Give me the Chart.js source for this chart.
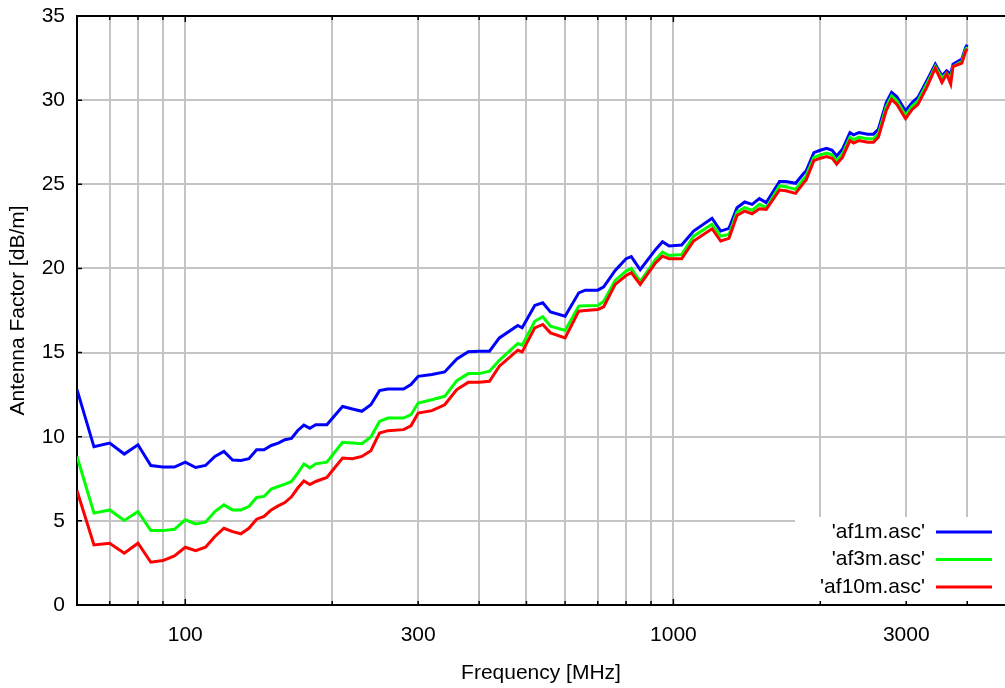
<!DOCTYPE html>
<html>
<head>
<meta charset="utf-8">
<script src="https://cdn.jsdelivr.net/npm/chart.js@4"></script>
<style>
  html, body { margin: 0; padding: 0; background: #fff; overflow: hidden; }
</style>
</head>
<body>
<canvas id="af" width="1005" height="688"></canvas>
<script>
// frequency points [MHz]
const freqs = [60,65,70,75,80,85,90,95,100,105,110,115,120,125,130,135,140,145,150,155,160,165,170,175,180,185,195,
  210,220,230,240,250,260,280,290,300,320,340,360,380,400,420,440,480,490,520,540,560,600,640,660,700,720,760,800,820,855,
  920,950,980,1040,1100,1200,1250,1300,1350,1400,1450,1500,1550,1650,1700,1780,1850,1870,1940,2000,2060,2115,2160,2220,
  2300,2340,2400,2500,2570,2630,2730,2800,2870,2990,3085,3170,3310,3440,3550,3630,3700,3740,3900,3970,4000];

// antenna factor [dB/m]
const af1m = [12.80,9.40,9.62,8.97,9.52,8.29,8.20,8.20,8.49,8.17,8.29,8.83,9.13,8.61,8.59,8.69,9.23,9.23,9.48,9.62,9.82,9.90,10.37,10.69,10.50,10.71,10.71,
  11.80,11.65,11.51,11.90,12.74,12.84,12.84,13.10,13.59,13.70,13.85,14.62,15.05,15.08,15.08,15.87,16.61,16.47,17.80,17.96,17.42,17.16,18.55,18.71,18.71,18.91,19.88,20.58,20.70,19.92,
  21.13,21.59,21.33,21.39,22.22,22.98,22.22,22.38,23.61,23.95,23.81,24.15,23.91,25.16,25.16,25.06,25.65,25.79,26.88,27.02,27.14,27.02,26.68,27.08,
  28.07,27.94,28.07,27.98,27.98,28.27,29.86,30.46,30.20,29.36,29.86,30.16,31.19,32.14,31.45,31.75,31.55,32.14,32.44,33.13,33.29];
const af3m = [8.83,5.46,5.65,5.02,5.55,4.42,4.42,4.50,5.06,4.82,4.92,5.55,5.95,5.65,5.65,5.85,6.39,6.45,6.89,7.04,7.18,7.34,7.84,8.38,8.15,8.39,8.49,
  9.67,9.62,9.58,9.98,10.91,11.11,11.11,11.31,12.00,12.20,12.40,13.33,13.75,13.75,13.89,14.54,15.54,15.44,16.86,17.13,16.57,16.31,17.76,17.78,17.80,18.05,19.29,19.84,20.00,19.22,
  20.54,20.97,20.77,20.83,21.92,22.62,21.92,22.02,23.35,23.61,23.45,23.81,23.61,24.90,24.85,24.70,25.34,25.50,26.60,26.75,26.85,26.75,26.40,26.80,
  27.80,27.65,27.80,27.70,27.70,28.00,29.60,30.25,29.95,29.10,29.65,29.95,31.00,32.00,31.30,31.60,31.30,32.00,32.30,33.00,33.15];
const af10m = [6.79,3.57,3.67,3.08,3.67,2.54,2.64,2.92,3.43,3.23,3.43,4.07,4.56,4.36,4.23,4.56,5.10,5.26,5.65,5.89,6.09,6.43,6.95,7.37,7.16,7.34,7.58,
  8.73,8.69,8.83,9.17,10.22,10.36,10.42,10.65,11.41,11.55,11.90,12.80,13.23,13.23,13.29,14.19,15.14,15.04,16.47,16.67,16.17,15.87,17.46,17.50,17.56,17.72,19.05,19.58,19.75,19.05,
  20.34,20.73,20.58,20.58,21.63,22.36,21.63,21.79,23.15,23.41,23.25,23.55,23.51,24.66,24.62,24.46,25.10,25.25,26.40,26.55,26.65,26.55,26.20,26.60,
  27.60,27.45,27.60,27.50,27.50,27.80,29.40,30.05,29.75,28.90,29.45,29.75,30.80,31.90,31.05,31.55,30.95,32.00,32.20,32.90,33.05];

const gridFreqs = [70,80,90,100,200,300,400,500,600,700,800,900,1000,2000,3000,4000];
const labeledFreqs = [100,300,1000,3000];
const yTicks = [0,5,10,15,20,25,30,35];
const seriesNames = ["'af1m.asc'", "'af3m.asc'", "'af10m.asc'"];
const seriesColors = ["#0000ff", "#00ff00", "#ff0000"];

const FONT = "'Liberation Sans', Arial, sans-serif";
const FSIZE = 21;
const toPoints = vals => freqs.map((f, i) => ({ x: f, y: vals[i] }));

// gnuplot style frame: top border, inward ticks, key box
const frame = {
  id: "frame",
  afterDraw(chart) {
    const { ctx, chartArea: a, scales: { x, y } } = chart;
    ctx.save();
    // key box
    ctx.fillStyle = "#fff";
    ctx.fillRect(795, 517, a.right - 795, a.bottom - 2 - 517);
    // top border
    ctx.strokeStyle = "#000";
    ctx.lineWidth = 2;
    ctx.beginPath();
    ctx.moveTo(a.left - 1, a.top);
    ctx.lineTo(a.right, a.top);
    ctx.stroke();
    // ticks
    ctx.lineWidth = 1.5;
    ctx.beginPath();
    gridFreqs.forEach(f => {
      const px = x.getPixelForValue(f);
      const len = (f === 100 || f === 1000) ? 6 : 4;
      ctx.moveTo(px, a.bottom);
      ctx.lineTo(px, a.bottom - len);
      ctx.moveTo(px, a.top);
      ctx.lineTo(px, a.top + len);
    });
    yTicks.forEach(v => {
      const py = y.getPixelForValue(v);
      ctx.moveTo(a.left, py);
      ctx.lineTo(a.left + 5, py);
    });
    ctx.stroke();
    // key
    ctx.font = FSIZE + "px " + FONT;
    ctx.fillStyle = "#000";
    ctx.textAlign = "right";
    ctx.textBaseline = "middle";
    seriesNames.forEach((name, i) => {
      const ry = 532 + i * 27.5;
      ctx.fillText(name, 925, ry);
      ctx.strokeStyle = seriesColors[i];
      ctx.lineWidth = 3;
      ctx.beginPath();
      ctx.moveTo(936, ry);
      ctx.lineTo(992, ry);
      ctx.stroke();
    });
    ctx.restore();
  }
};

new Chart(document.getElementById("af"), {
  type: "line",
  data: {
    datasets: [af1m, af3m, af10m].map((vals, i) => ({
      label: seriesNames[i],
      data: toPoints(vals),
      borderColor: seriesColors[i],
      borderWidth: 3,
      pointRadius: 0,
      tension: 0,
      fill: false,
      order: 3 - i
    }))
  },
  options: {
    responsive: false,
    devicePixelRatio: 1,
    animation: false,
    layout: { padding: { top: 16, right: 0, bottom: 0, left: 0 } },
    plugins: { legend: { display: false }, tooltip: { enabled: false } },
    scales: {
      x: {
        type: "logarithmic",
        min: 60,
        max: 4780,
        afterBuildTicks: s => { s.ticks = gridFreqs.map(v => ({ value: v })); },
        afterFit: s => { s.height = 83; s.paddingLeft = 0; s.paddingRight = 0; },
        ticks: {
          autoSkip: false,
          maxRotation: 0,
          padding: 18,
          color: "#000",
          font: { size: FSIZE, family: FONT },
          callback: v => labeledFreqs.includes(v) ? String(v) : ""
        },
        grid: { color: "#c4c4c4", lineWidth: 2, drawTicks: false },
        border: { display: true, color: "#000", width: 2 },
        title: {
          display: true,
          text: "Frequency [MHz]",
          color: "#000",
          font: { size: FSIZE, family: FONT },
          padding: { top: 0, bottom: 2 }
        }
      },
      y: {
        min: 0,
        max: 35,
        afterBuildTicks: s => { s.ticks = yTicks.map(v => ({ value: v })); },
        afterFit: s => { s.width = 77; s.paddingTop = 0; s.paddingBottom = 0; },
        ticks: {
          padding: 12,
          color: "#000",
          font: { size: FSIZE, family: FONT }
        },
        grid: { color: "#c4c4c4", lineWidth: 2, drawTicks: false },
        border: { display: true, color: "#000", width: 2 },
        title: {
          display: true,
          text: "Antenna Factor [dB/m]",
          color: "#000",
          font: { size: FSIZE, family: FONT },
          padding: { top: 6, bottom: 0 }
        }
      }
    }
  },
  plugins: [frame]
});
</script>
</body>
</html>
